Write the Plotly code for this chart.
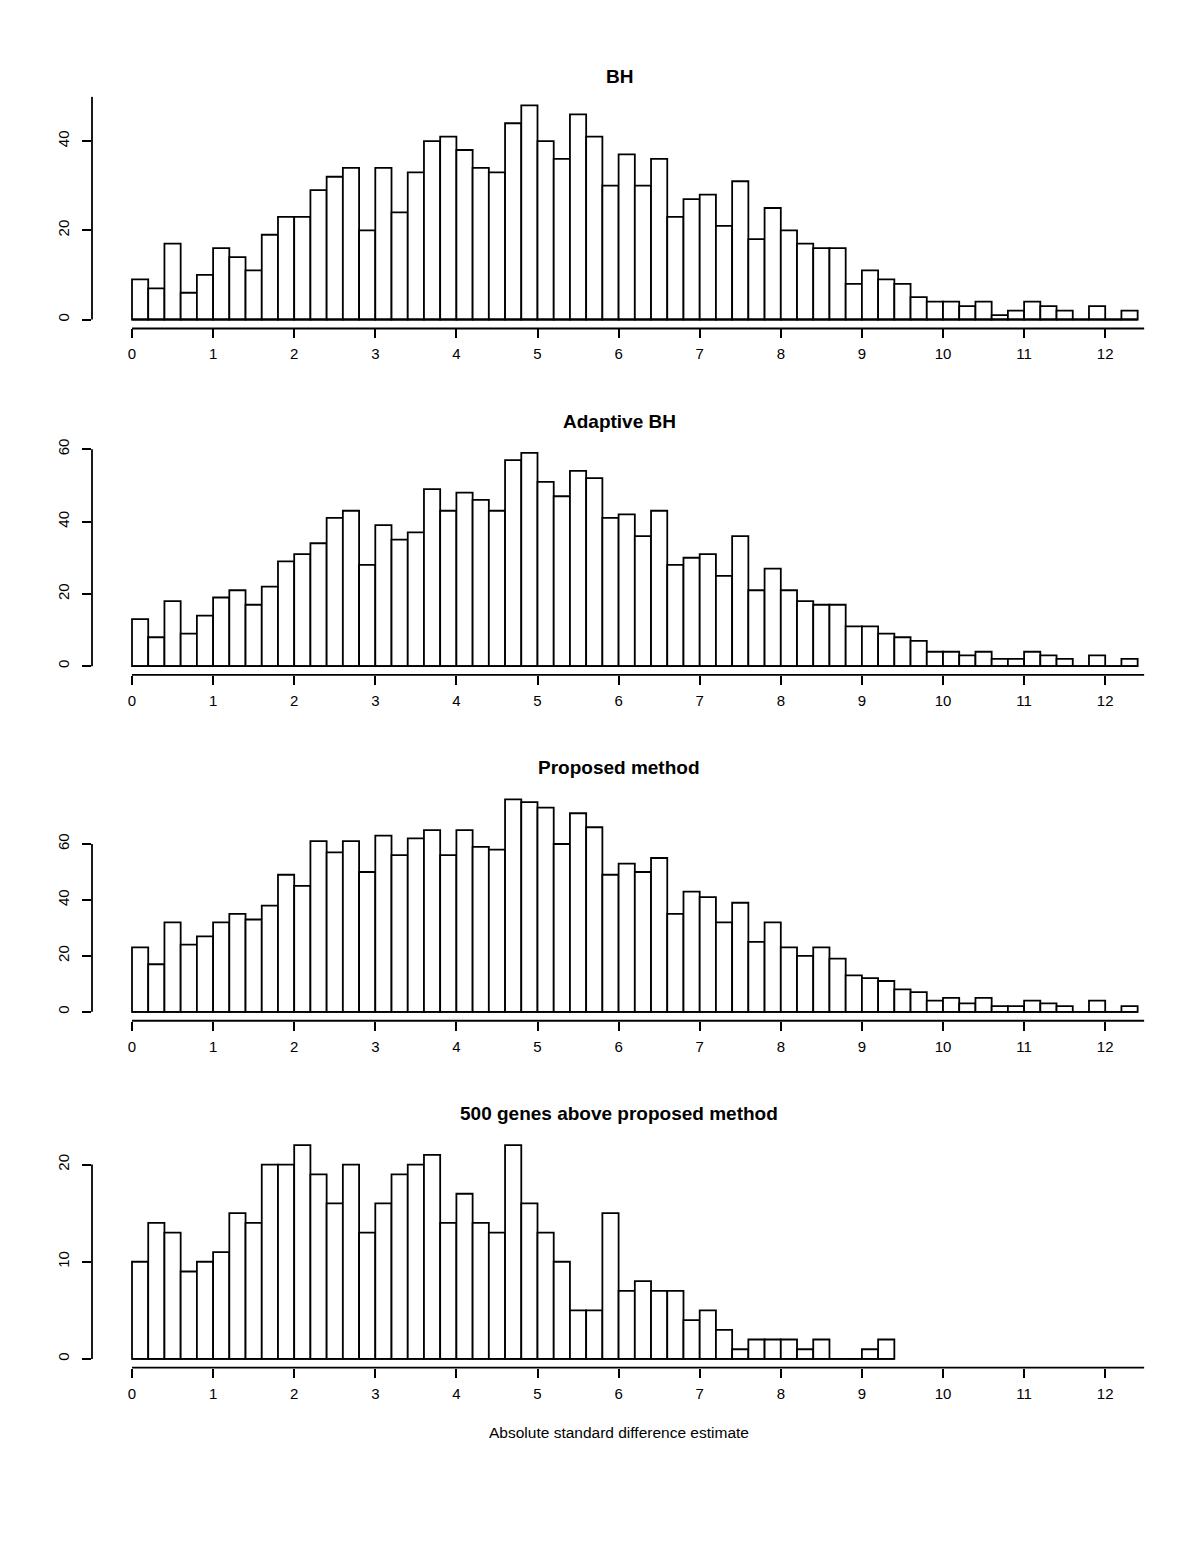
import numpy as np
import plotly.graph_objects as go

# ---------------- data ----------------
bin_width = 0.2
titles = ["BH", "Adaptive BH", "Proposed method", "500 genes above proposed method"]
x_label = "Absolute standard difference estimate"
x_ticks = list(range(0, 13))

counts_bh = [9, 7, 17, 6, 10, 16, 14, 11, 19, 23,
             23, 29, 32, 34, 20, 34, 24, 33, 40, 41,
             38, 34, 33, 44, 48, 40, 36, 46, 41, 30,
             37, 30, 36, 23, 27, 28, 21, 31, 18, 25,
             20, 17, 16, 16, 8, 11, 9, 8, 5, 4,
             4, 3, 4, 1, 2, 4, 3, 2, 0, 3,
             0, 2]
counts_abh = [13, 8, 18, 9, 14, 19, 21, 17, 22, 29,
              31, 34, 41, 43, 28, 39, 35, 37, 49, 43,
              48, 46, 43, 57, 59, 51, 47, 54, 52, 41,
              42, 36, 43, 28, 30, 31, 25, 36, 21, 27,
              21, 18, 17, 17, 11, 11, 9, 8, 7, 4,
              4, 3, 4, 2, 2, 4, 3, 2, 0, 3,
              0, 2]
counts_prop = [23, 17, 32, 24, 27, 32, 35, 33, 38, 49,
               45, 61, 57, 61, 50, 63, 56, 62, 65, 56,
               65, 59, 58, 76, 75, 73, 60, 71, 66, 49,
               53, 50, 55, 35, 43, 41, 32, 39, 25, 32,
               23, 20, 23, 19, 13, 12, 11, 8, 7, 4,
               5, 3, 5, 2, 2, 4, 3, 2, 0, 4,
               0, 2]
counts_500 = [10, 14, 13, 9, 10, 11, 15, 14, 20, 20,
              22, 19, 16, 20, 13, 16, 19, 20, 21, 14,
              17, 14, 13, 22, 16, 13, 10, 5, 5, 15,
              7, 8, 7, 7, 4, 5, 3, 1, 2, 2,
              2, 1, 2, 0, 0, 1, 2]
y_ticks = [[0, 20, 40], [0, 20, 40, 60], [0, 20, 40, 60], [0, 10, 20]]
y_axis_top = [50, 60, 60, 20]
x_axis_end = 12.48

all_counts = [counts_bh, counts_abh, counts_prop, counts_500]

# ---------------- layout geometry (pixels) ----------------
W, H = 1200, 1553
OFF = 8  # page body margin compensation
FONT = "Liberation Sans, Arial, Helvetica, sans-serif"
x_left_px, x_right_px, x_zero_px, x_scale = 92, 1146, 132, 81.1
# (zero pixel, px per unit, plot top px, plot bottom px, title px)
panels = [
    (315.5, 4.475, 92, 324.5, 75),
    (663.3, 3.627, 440, 672, 421),
    (1010.0, 2.805, 788, 1019, 768),
    (1358.3, 9.75, 1132, 1367, 1115),
]


def px(p):
    return (p - OFF) / W


def py(p):
    return 1 - (p - OFF) / H


fig = go.Figure()
layout = dict(
    width=W, height=H, autosize=False,
    margin=dict(l=0, r=0, t=0, b=0),
    paper_bgcolor="white", plot_bgcolor="white",
    showlegend=False, font=dict(family=FONT, color="black"),
)
shapes = []
annotations = []
LW = 1.8
TICK_FS = 15

x_range = [(x_left_px - x_zero_px) / x_scale, (x_right_px - x_zero_px) / x_scale]

for i, (counts, (zpx, sc, top, bot, tpx)) in enumerate(zip(all_counts, panels)):
    n = i + 1
    xa = "x" if n == 1 else f"x{n}"
    ya = "y" if n == 1 else f"y{n}"
    centers = [bin_width * (k + 0.5) for k in range(len(counts))]
    # baseline under the bins (zero-count bins show as a line in the original)
    fig.add_trace(go.Scatter(
        x=[0, bin_width * len(counts)], y=[0, 0], mode="lines",
        line=dict(color="black", width=LW), xaxis=xa, yaxis=ya, hoverinfo="skip"))
    fig.add_trace(go.Bar(
        x=centers, y=counts, width=bin_width,
        marker=dict(color="white", line=dict(color="black", width=LW)),
        xaxis=xa, yaxis=ya))

    y_range = [(zpx - bot) / sc, (zpx - top) / sc]
    layout[f"xaxis{'' if n == 1 else n}"] = dict(
        domain=[px(x_left_px), px(x_right_px)], range=x_range, anchor=ya,
        showline=False, showgrid=False, zeroline=False,
        ticks="outside", ticklen=9, tickwidth=LW, tickcolor="black",
        tickvals=x_ticks, ticktext=[str(v) for v in x_ticks],
        tickfont=dict(family=FONT, size=TICK_FS, color="black"),
        ticklabelstandoff=3, fixedrange=True,
    )
    layout[f"yaxis{'' if n == 1 else n}"] = dict(
        domain=[py(bot), py(top)], range=y_range, anchor=xa,
        showline=False, showgrid=False, zeroline=False,
        ticks="outside", ticklen=9, tickwidth=LW, tickcolor="black",
        tickvals=y_ticks[i], ticktext=[str(v) for v in y_ticks[i]],
        tickangle=-90,
        tickfont=dict(family=FONT, size=TICK_FS, color="black"),
        ticklabelstandoff=7, fixedrange=True,
    )
    # R-style axis lines
    shapes.append(dict(type="line", xref=xa, yref=f"{ya} domain",
                       x0=0, x1=x_axis_end, y0=0, y1=0,
                       line=dict(color="black", width=LW)))
    shapes.append(dict(type="line", xref=f"{xa} domain", yref=ya,
                       x0=0, x1=0, y0=0, y1=y_axis_top[i],
                       line=dict(color="black", width=LW)))
    annotations.append(dict(
        text=f"<b>{titles[i]}</b>", xref="paper", yref="paper",
        x=px((x_left_px + x_right_px) / 2), y=py(tpx - 3),
        xanchor="center", yanchor="middle", showarrow=False,
        font=dict(family=FONT, size=19, color="black")))

annotations.append(dict(
    text=x_label, xref="paper", yref="paper",
    x=px((x_left_px + x_right_px) / 2), y=py(1432),
    xanchor="center", yanchor="middle", showarrow=False,
    font=dict(family=FONT, size=15.5, color="black")))

layout["shapes"] = shapes
layout["annotations"] = annotations
fig.update_layout(**layout)
fig.write_html("out.html")
